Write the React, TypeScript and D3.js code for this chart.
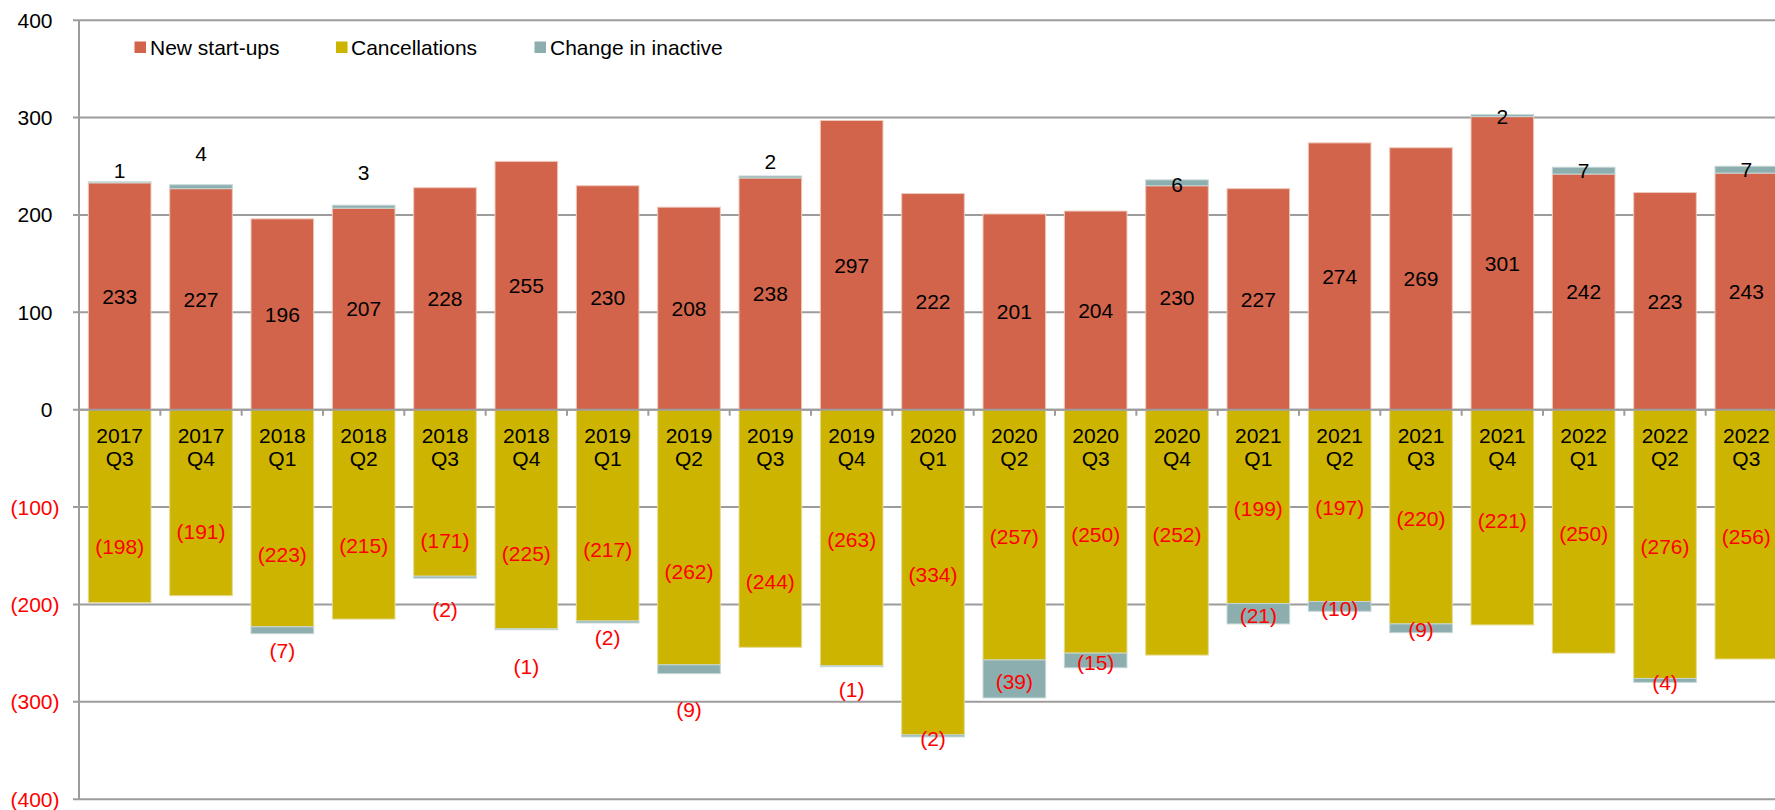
import React from "react";
import * as d3 from "d3";

// Quarterly company start-ups, cancellations and change in inactive companies
const quarters = [
  "2017 Q3", "2017 Q4", "2018 Q1", "2018 Q2", "2018 Q3", "2018 Q4",
  "2019 Q1", "2019 Q2", "2019 Q3", "2019 Q4", "2020 Q1", "2020 Q2",
  "2020 Q3", "2020 Q4", "2021 Q1", "2021 Q2", "2021 Q3", "2021 Q4",
  "2022 Q1", "2022 Q2", "2022 Q3",
];
const newStartups = [233, 227, 196, 207, 228, 255, 230, 208, 238, 297, 222, 201, 204, 230, 227, 274, 269, 301, 242, 223, 243];
const cancellations = [-198, -191, -223, -215, -171, -225, -217, -262, -244, -263, -334, -257, -250, -252, -199, -197, -220, -221, -250, -276, -256];
const inactiveChange = [1, 4, -7, 3, -2, -1, -2, -9, 2, -1, -2, -39, -15, 6, -21, -10, -9, 2, 7, -4, 7];

// Where each hand-placed data label sits, in axis units
const cancelLabelAt = [-140.7, -125.3, -148.2, -139.7, -134.6, -147.5, -144, -166.4, -176.7, -133, -169, -130.4, -127.7, -128, -101.3, -100.3, -111.6, -113.3, -127, -140.7, -130.4];
const inactiveLabelAt = [246, 263, -247.5, 243.5, -205, -264, -234, -308, 255, -287, -338, -279, -259.5, 231, -211, -204, -226, 301, 246, -280.5, 247];

const yTicks = [400, 300, 200, 100, 0, -100, -200, -300, -400];

const seriesNames = ["New start-ups", "Cancellations", "Change in inactive"];
const seriesColors = ["#D2644B", "#CCB400", "#8DAEAE"];

const W = 1775;
const H = 810;
const FONT = "'Liberation Sans', Arial, sans-serif";
const FS = 21;

const fmt = (v: number) => (v < 0 ? `(${Math.abs(v)})` : `${v}`);
const labelColor = (v: number) => (v < 0 ? "#FF0000" : "#000000");

export default function App() {
  const x = d3
    .scaleBand<string>()
    .domain(quarters)
    .range([79, 1787])
    .paddingInner(0.23)
    .paddingOuter(0.115);
  const y = d3.scaleLinear().domain([-400, 400]).range([799.2, 20.2]);
  const step = x.step();
  const axisX = 79;
  const bw = x.bandwidth();
  const gridColor = "#9C9C9C";

  const rows = quarters.map((q, i) => {
    const inc = inactiveChange[i];
    const base = inc >= 0 ? newStartups[i] : cancellations[i];
    return {
      q,
      x0: x(q) as number,
      cx: (x(q) as number) + bw / 2,
      ns: newStartups[i],
      cn: cancellations[i],
      inc,
      incFrom: base,
      incTo: base + inc,
      cnLab: cancelLabelAt[i],
      incLab: inactiveLabelAt[i],
    };
  });

  const legendItems = [
    { sx: 134.5, tx: 150 },
    { sx: 336, tx: 351 },
    { sx: 534.5, tx: 550 },
  ];

  return (
    <svg
      width={W}
      height={H}
      viewBox={`0 0 ${W} ${H}`}
      style={{ position: "absolute", left: 0, top: 0, background: "#fff" }}
      fontFamily={FONT}
      fontSize={FS}
    >
      <rect x={0} y={0} width={W} height={H} fill="#fff" />

      {/* horizontal gridlines */}
      {yTicks.map((t) => (
        <line
          key={`g${t}`}
          x1={73}
          x2={W}
          y1={y(t)}
          y2={y(t)}
          stroke={gridColor}
          strokeWidth={2}
        />
      ))}

      {/* y-axis tick labels */}
      {yTicks.map((t) => (
        <text
          key={`t${t}`}
          x={t < 0 ? 59.5 : 52.5}
          y={y(t) + 7.5}
          textAnchor="end"
          fill={labelColor(t)}
        >
          {fmt(t)}
        </text>
      ))}

      {/* stacked bars */}
      {rows.map((r) => (
        <g key={`b${r.q}`}>
          <rect
            x={r.x0}
            width={bw}
            y={y(r.ns)}
            height={y(0) - y(r.ns)}
            fill={seriesColors[0]}
            stroke="#F0C8BC"
            strokeWidth={1}
          />
          <rect
            x={r.x0}
            width={bw}
            y={y(0)}
            height={y(r.cn) - y(0)}
            fill={seriesColors[1]}
            stroke="#E6DA90"
            strokeWidth={1}
          />
          <rect
            x={r.x0}
            width={bw}
            y={y(Math.max(r.incFrom, r.incTo))}
            height={Math.abs(y(r.incTo) - y(r.incFrom))}
            fill={seriesColors[2]}
            stroke="#C4D6D6"
            strokeWidth={1}
          />
        </g>
      ))}

      {/* zero axis line and category ticks */}
      <line x1={axisX} x2={W} y1={y(0)} y2={y(0)} stroke={gridColor} strokeWidth={2} />
      {quarters.map((q, i) => (
        <line
          key={`xt${q}`}
          x1={axisX + step * (i + 1)}
          x2={axisX + step * (i + 1)}
          y1={y(0)}
          y2={y(0) + 6}
          stroke={gridColor}
          strokeWidth={2}
        />
      ))}
      <line x1={axisX} x2={axisX} y1={y(400)} y2={y(-400)} stroke={gridColor} strokeWidth={2} />

      {/* category labels */}
      {rows.map((r) => {
        const [yr, qt] = r.q.split(" ");
        return (
          <text key={`c${r.q}`} x={r.cx} textAnchor="middle" fill="#000">
            <tspan x={r.cx} y={442.5}>{yr}</tspan>
            <tspan x={r.cx} y={466}>{qt}</tspan>
          </text>
        );
      })}

      {/* data labels */}
      {rows.map((r) => (
        <g key={`l${r.q}`} textAnchor="middle">
          <text x={r.cx} y={y(r.ns / 2) + 7.5} fill={labelColor(r.ns)}>
            {fmt(r.ns)}
          </text>
          <text x={r.cx} y={y(r.cnLab) + 7.5} fill={labelColor(r.cn)}>
            {fmt(r.cn)}
          </text>
          <text x={r.cx} y={y(r.incLab) + 7.5} fill={labelColor(r.inc)}>
            {fmt(r.inc)}
          </text>
        </g>
      ))}

      {/* legend */}
      {legendItems.map((l, i) => (
        <g key={`lg${i}`}>
          <rect x={l.sx} y={41.5} width={11.5} height={11.5} fill={seriesColors[i]} />
          <text x={l.tx} y={54.5} fill="#000">
            {seriesNames[i]}
          </text>
        </g>
      ))}
    </svg>
  );
}
